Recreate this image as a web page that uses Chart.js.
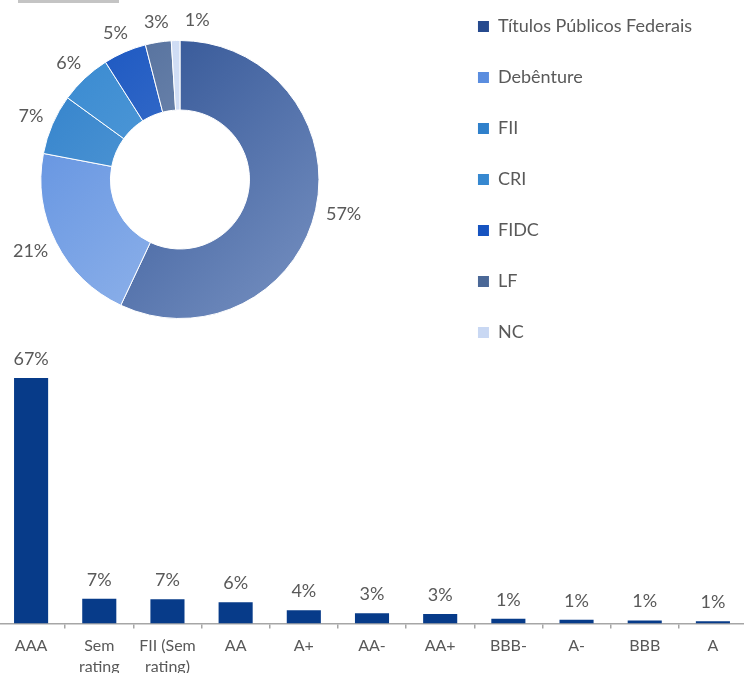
<!DOCTYPE html>
<html lang="pt-BR">
<head>
<meta charset="UTF-8" />
<title>Carteira</title>
<script src="https://cdn.jsdelivr.net/npm/chart.js"></script>
<style>
  html, body { margin: 0; padding: 0; background: #fff; overflow: hidden; }
  body { width: 744px; height: 673px; position: relative; font-family: Lato, sans-serif; }
  #faixa { position: absolute; left: 18px; top: 0; width: 101px; height: 3px; background: #c4c4c4; }
  #barBox { position: absolute; left: -3px; top: 344px; width: 750px; height: 340px; }
  #pieBox { position: absolute; left: -85px; top: -16px; width: 787px; height: 391px; }
</style>
</head>
<body>
<div id="faixa"></div>
<div id="barBox"><canvas id="barras"></canvas></div>
<div id="pieBox"><canvas id="pizza"></canvas></div>
<script>
// dados
var tipos = ["Títulos Públicos Federais", "Debênture", "FII", "CRI", "FIDC", "LF", "NC"];
var tiposPct = [57, 21, 7, 6, 5, 3, 1];

var ratings = ["AAA", ["Sem", "rating"], ["FII (Sem", "rating)"], "AA", "A+", "AA-", "AA+", "BBB-", "A-", "BBB", "A"];
var ratingsPct = [67, 6.7, 6.6, 5.8, 3.6, 2.8, 2.6, 1.3, 1.0, 0.8, 0.6];

// cores
var corEscura = ["#264a8e", "#5a8ddf", "#2f80cb", "#3688d0", "#1653c0", "#4b6897", "#c9d8f3"];
var corClara = ["#7892c2", "#a3c0ee", "#74aedd", "#6eacdf", "#5d89d2", "#93a6c5", "#e2eaf9"];
var cinza = "#595959";

Chart.defaults.font.family = "Lato";
Chart.defaults.color = cinza;

function fundo(context) {
  var i = context.dataIndex;
  var area = context.chart.chartArea;
  if (!area || context.type !== "data") return corEscura[i];
  var cx = (area.left + area.right) / 2;
  var cy = (area.top + area.bottom) / 2;
  var r = 139;
  var g = context.chart.ctx.createLinearGradient(cx - r, cy - r, cx + r, cy + r);
  g.addColorStop(0, corEscura[i]);
  g.addColorStop(1, corClara[i]);
  return g;
}

var rotulosPizza = {
  id: "rotulosPizza",
  afterDatasetsDraw: function (chart) {
    var ctx = chart.ctx;
    var arcs = chart.getDatasetMeta(0).data;
    ctx.save();
    ctx.font = "18px Lato";
    ctx.fillStyle = cinza;
    ctx.textAlign = "center";
    ctx.textBaseline = "middle";
    var prev = null;
    arcs.forEach(function (arc, i) {
      var p = arc.getProps(["x", "y", "startAngle", "endAngle", "outerRadius"], true);
      var mid = (p.startAngle + p.endAngle) / 2;
      var c = Math.cos(mid), s = Math.sin(mid);
      var txt = tiposPct[i] + "%";
      var w = ctx.measureText(txt).width, h = 18;
      var x = p.x + c * (p.outerRadius + 11) + c * w / 2;
      var y = p.y + s * (p.outerRadius + 11) + s * h / 2;
      if (prev && Math.abs(y - prev.y) < h && x - w / 2 < prev.x + prev.w / 2 + 16) {
        x = prev.x + prev.w / 2 + 16 + w / 2;
      }
      ctx.fillText(txt, x, y);
      prev = { x: x, y: y, w: w };
    });
    ctx.restore();
  }
};

var rotulosBarras = {
  id: "rotulosBarras",
  afterDatasetsDraw: function (chart) {
    var ctx = chart.ctx;
    ctx.save();
    ctx.font = "18px Lato";
    ctx.fillStyle = cinza;
    ctx.textAlign = "center";
    ctx.textBaseline = "alphabetic";
    chart.getDatasetMeta(0).data.forEach(function (bar, i) {
      ctx.fillText(Math.round(ratingsPct[i]) + "%", bar.x, bar.y - 13);
    });
    ctx.restore();
  }
};

new Chart(document.getElementById("pizza"), {
  type: "doughnut",
  data: {
    labels: tipos,
    datasets: [{
      data: tiposPct,
      backgroundColor: fundo,
      borderColor: "#ffffff",
      borderWidth: 1
    }]
  },
  options: {
    responsive: true,
    maintainAspectRatio: false,
    animation: false,
    radius: 139,
    cutout: "50%",
    layout: { padding: 0 },
    plugins: {
      tooltip: { enabled: false },
      legend: {
        position: "right",
        align: "center",
        labels: {
          boxWidth: 11,
          boxHeight: 11,
          padding: 33,
          color: cinza,
          font: { size: 18 },
          generateLabels: function (chart) {
            var items = Chart.overrides.doughnut.plugins.legend.labels.generateLabels(chart);
            items.forEach(function (it, i) {
              it.fillStyle = corEscura[i];
              it.strokeStyle = corEscura[i];
              it.lineWidth = 0;
              it.fontColor = cinza;
            });
            return items;
          }
        }
      }
    }
  },
  plugins: [rotulosPizza]
});

new Chart(document.getElementById("barras"), {
  type: "bar",
  data: {
    labels: ratings,
    datasets: [{
      data: ratingsPct,
      backgroundColor: "#073b89",
      barPercentage: 0.5,
      categoryPercentage: 1
    }]
  },
  options: {
    responsive: true,
    maintainAspectRatio: false,
    animation: false,
    layout: { padding: { top: 23, left: 0, right: 0, bottom: 0 } },
    plugins: { legend: { display: false }, tooltip: { enabled: false } },
    scales: {
      x: {
        grid: {
          drawOnChartArea: false,
          drawTicks: true,
          tickLength: 5,
          color: "#a6a6a6",
          lineWidth: 1.5,
          offset: true
        },
        border: { display: true, color: "#a6a6a6", width: 1.5 },
        ticks: {
          color: cinza,
          font: { size: 16, lineHeight: 1.3 },
          padding: 7,
          maxRotation: 0,
          autoSkip: false
        }
      },
      y: { display: false, min: 0, max: 70 }
    }
  },
  plugins: [rotulosBarras]
});
</script>
</body>
</html>
